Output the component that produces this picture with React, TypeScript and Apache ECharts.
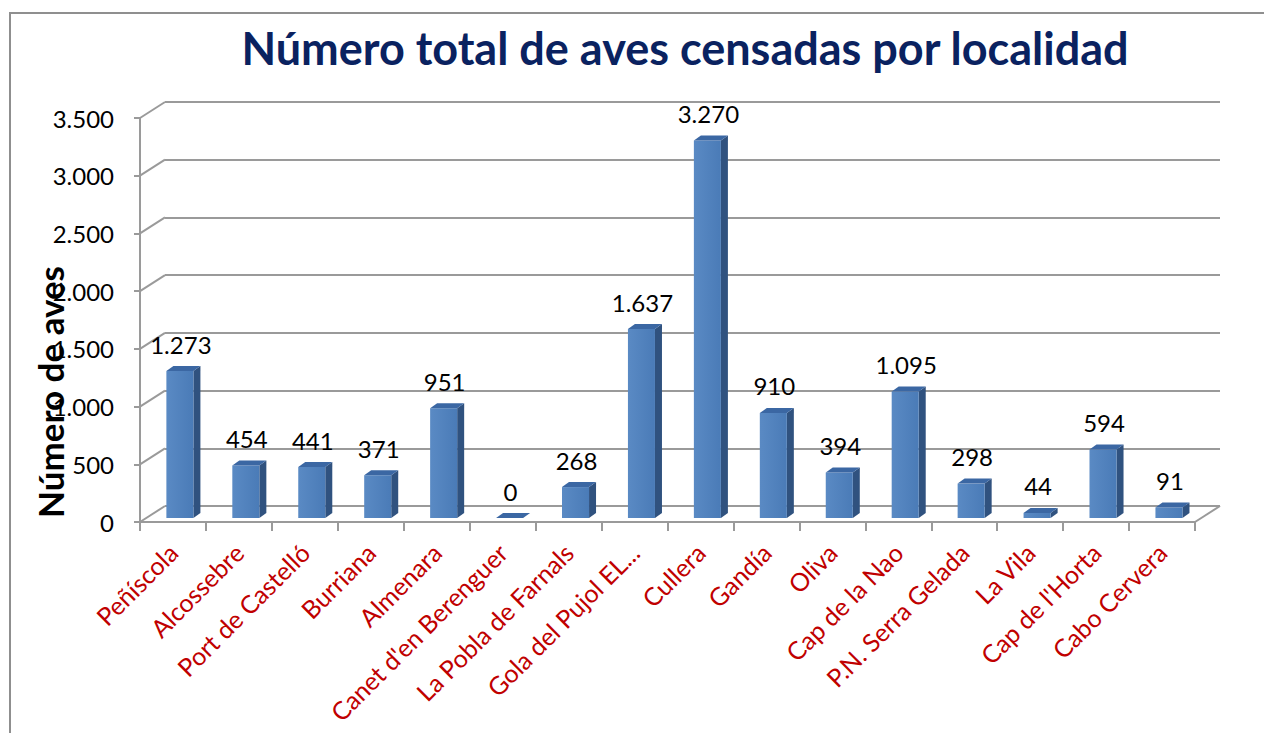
import React, { useEffect, useRef } from "react";
import * as echarts from "echarts";

const categories = [
  "Peñíscola",
  "Alcossebre",
  "Port de Castelló",
  "Burriana",
  "Almenara",
  "Canet d'en Berenguer",
  "La Pobla de Farnals",
  "Gola del Pujol EL...",
  "Cullera",
  "Gandía",
  "Oliva",
  "Cap de la Nao",
  "P.N. Serra Gelada",
  "La Vila",
  "Cap de l'Horta",
  "Cabo Cervera",
];
const values = [1273, 454, 441, 371, 951, 0, 268, 1637, 3270, 910, 394, 1095, 298, 44, 594, 91];
const yTicks = [0, 500, 1000, 1500, 2000, 2500, 3000, 3500];
const yMax = 3500;
const yStep = 500;
const chartTitle = "Número total de aves censadas por localidad";
const yTitle = "Número de aves";

const fmt = (v: number) => String(v).replace(/\B(?=(\d{3})+(?!\d))/g, ".");

const GRID_COLOR = "#9a9a9a";
const DX = 25;
const DY = -16;

export default function App() {
  const ref = useRef<HTMLDivElement>(null);
  useEffect(() => {
    document.body.style.margin = "0";
    const chart = echarts.init(ref.current!, null, { renderer: "svg" });
    const option: any = {
      animation: false,
      backgroundColor: "#ffffff",
      title: {
        text: chartTitle,
        left: 680,
        top: 20,
        textAlign: "center",
        textStyle: { fontFamily: "Lato", fontWeight: "bold", fontSize: 45, color: "#0a2260" },
      },
      graphic: [
        {
          type: "rect",
          shape: { x: 10, y: 13, width: 1400, height: 900 },
          style: { fill: "none", stroke: "#8f8f8f", lineWidth: 2 },
          silent: true,
        },
        {
          type: "text",
          x: 50,
          y: 392,
          rotation: Math.PI / 2,
          style: {
            text: yTitle,
            fontFamily: "Lato",
            fontWeight: "bold",
            fontSize: 35,
            fill: "#000",
            textAlign: "center",
            textVerticalAlign: "middle",
          },
        },
      ],
      grid: [
        { left: 140, right: 69, top: 118, bottom: 211 },
        { left: 140 + DX, right: 69 - DX, top: 118 + DY, bottom: 211 - DY },
      ],
      xAxis: [
        {
          type: "category",
          gridIndex: 0,
          data: categories,
          axisLine: { show: true, lineStyle: { color: GRID_COLOR, width: 2 } },
          axisTick: { show: true, length: 9, lineStyle: { color: GRID_COLOR, width: 2 } },
          axisLabel: {
            interval: 0,
            rotate: 45,
            margin: 26,
            color: "#C00000",
            fontFamily: "Lato",
            fontSize: 25,
          },
        },
        {
          type: "category",
          gridIndex: 1,
          data: categories,
          show: false,
        },
      ],
      yAxis: [
        {
          type: "value",
          gridIndex: 0,
          min: 0,
          max: yMax,
          interval: yStep,
          axisLine: { show: true, lineStyle: { color: GRID_COLOR, width: 2 } },
          axisTick: { show: true, length: 6, lineStyle: { color: GRID_COLOR, width: 2 } },
          splitLine: { show: false },
          axisLabel: {
            margin: 26,
            color: "#000",
            fontFamily: "Lato",
            fontSize: 24,
            formatter: (v: number) => fmt(v),
          },
        },
        {
          type: "value",
          gridIndex: 1,
          min: 0,
          max: yMax,
          interval: yStep,
          axisLine: { show: false },
          axisTick: { show: false },
          axisLabel: { show: false },
          splitLine: { show: true, lineStyle: { color: GRID_COLOR, width: 2 } },
        },
      ],
      series: [
        {
          type: "custom",
          xAxisIndex: 0,
          yAxisIndex: 0,
          silent: true,
          z: 1,
          data: yTicks.map((v) => [0, v]),
          renderItem: (params: any, api: any) => {
            const v = api.value(1);
            const cs = params.coordSys;
            const y = api.coord([0, v])[1];
            const children: any[] = [
              {
                type: "line",
                shape: { x1: cs.x, y1: y, x2: cs.x + DX, y2: y + DY },
                style: { stroke: GRID_COLOR, lineWidth: 2 },
              },
            ];
            if (v === 0) {
              children.push({
                type: "line",
                shape: { x1: cs.x + cs.width, y1: y, x2: cs.x + cs.width + DX, y2: y + DY },
                style: { stroke: GRID_COLOR, lineWidth: 2 },
              });
            }
            return { type: "group", children };
          },
        },
        {
          type: "custom",
          xAxisIndex: 0,
          yAxisIndex: 0,
          z: 5,
          data: values.map((v, i) => [i, v]),
          renderItem: (params: any, api: any) => {
            const i = api.value(0);
            const v = api.value(1);
            const [cx, yTop] = api.coord([i, v]);
            const y0 = api.coord([i, 0])[1];
            const band = api.size([1, 0])[0];
            const w = band * 0.41;
            const shift = band * 0.105;
            const bx = cx + shift - w / 2;
            const lift = 4;
            const top = yTop - lift;
            const bot = y0 - lift;
            const ddx = 7;
            const ddy = -5;
            return {
              type: "group",
              children: [
                {
                  type: "polygon",
                  shape: {
                    points: [
                      [bx + w, top],
                      [bx + w + ddx, top + ddy],
                      [bx + w + ddx, bot + ddy],
                      [bx + w, bot],
                    ],
                  },
                  style: { fill: "#30527f" },
                },
                {
                  type: "rect",
                  shape: { x: bx, y: top, width: w, height: bot - top },
                  style: {
                    fill: {
                      type: "linear",
                      x: 0,
                      y: 0,
                      x2: 1,
                      y2: 0,
                      colorStops: [
                        { offset: 0, color: "#5a8ac4" },
                        { offset: 1, color: "#4a7bb7" },
                      ],
                    },
                  },
                },
                {
                  type: "polygon",
                  shape: {
                    points: [
                      [bx, top],
                      [bx + ddx, top + ddy],
                      [bx + w + ddx, top + ddy],
                      [bx + w, top],
                    ],
                  },
                  style: { fill: "#3b67a3" },
                },
                {
                  type: "text",
                  style: {
                    x: bx + w / 2 + 1,
                    y: top - 27,
                    text: fmt(v),
                    fontFamily: "Lato",
                    fontSize: 24,
                    fill: "#000",
                    textAlign: "center",
                    textVerticalAlign: "middle",
                  },
                },
              ],
            };
          },
        },
      ],
    };
    chart.setOption(option);
    return () => chart.dispose();
  }, []);
  return <div ref={ref} style={{ width: 1264, height: 733 }} />;
}
